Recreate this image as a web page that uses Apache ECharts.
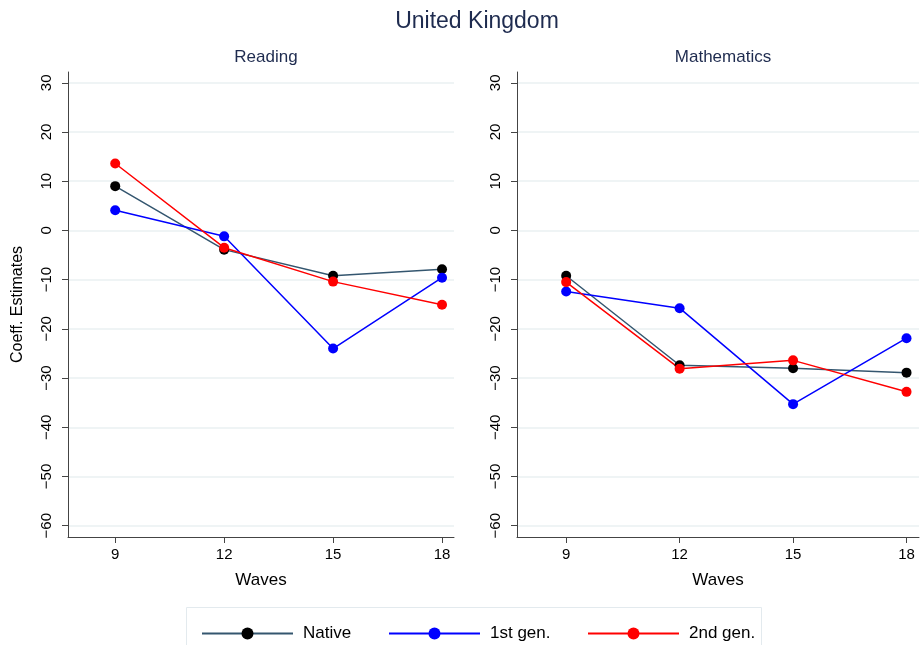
<!DOCTYPE html>
<html>
<head>
<meta charset="utf-8">
<script src="https://cdn.jsdelivr.net/npm/echarts@6/dist/echarts.min.js"></script>
<style>html,body{margin:0;padding:0;background:#fff}#c{width:921px;height:645px}</style>
</head>
<body>
<div id="c"></div>
<script>
var waves = [9, 12, 15, 18];
var yTicks = [-60, -50, -40, -30, -20, -10, 0, 10, 20, 30];
var seriesNames = ['Native', '1st gen.', '2nd gen.'];
var readingNative = [9.0, -3.9, -9.2, -7.9];
var reading1st = [4.1, -1.2, -24.0, -9.6];
var reading2nd = [13.6, -3.5, -10.4, -15.1];
var mathNative = [-9.2, -27.4, -28.0, -28.9];
var math1st = [-12.4, -15.8, -35.3, -21.9];
var math2nd = [-10.5, -28.1, -26.4, -32.8];

var lineColors = ['#34566f', '#0000ff', '#ff0000'];
var markerColors = ['#000000', '#0000ff', '#ff0000'];
var FONT = 'Liberation Sans, Arial, Helvetica, sans-serif';

function pairs(vals) { return waves.map(function (w, i) { return [w, vals[i]]; }); }

function xAxis(idx) {
  return {
    type: 'value', gridIndex: idx, min: 7.7, max: 18.33,
    name: 'Waves', nameLocation: 'middle', nameGap: 35,
    nameTextStyle: { fontSize: 17, color: '#000', fontFamily: FONT },
    axisLine: { show: true, onZero: false, lineStyle: { color: '#444', width: 1 } },
    axisTick: { show: true, length: 6, customValues: waves, lineStyle: { color: '#444' } },
    axisLabel: { customValues: waves, fontSize: 15, color: '#000', fontFamily: FONT, margin: 10 },
    splitLine: { show: false }
  };
}
function yAxis(idx, withName) {
  return {
    type: 'value', gridIndex: idx, min: -62.3, max: 32.2,
    name: withName ? 'Coeff. Estimates' : '', nameLocation: 'middle', nameGap: 42,
    nameTextStyle: { fontSize: 16, color: '#000', fontFamily: FONT },
    axisLine: { show: true, onZero: false, lineStyle: { color: '#444', width: 1 } },
    axisTick: { show: true, length: 6, customValues: yTicks, lineStyle: { color: '#444' } },
    axisLabel: {
      customValues: yTicks, rotate: 90, fontSize: 15, color: '#000', fontFamily: FONT, margin: 14,
      formatter: function (v) { return String(v).replace('-', '\u2212'); }
    },
    splitLine: { show: true, lineStyle: { color: '#eaf0f2', width: 1.5 } }
  };
}
function ser(name, k, data, idx) {
  return {
    name: name, type: 'line', xAxisIndex: idx, yAxisIndex: idx,
    data: pairs(data), symbol: 'circle', symbolSize: 10,
    lineStyle: { color: lineColors[k], width: 1.5 },
    itemStyle: { color: markerColors[k] },
    emphasis: { disabled: true }, animation: false
  };
}
function legend(k, left) {
  return {
    data: [seriesNames[k]], left: left, top: 620, itemWidth: 91, itemHeight: 15,
    textStyle: { fontSize: 17, color: '#000', fontFamily: FONT, padding: [0, 0, 0, 5] },
    selectedMode: false
  };
}

var chart = echarts.init(document.getElementById('c'));
chart.setOption({
  backgroundColor: '#fff',
  animation: false,
  title: [
    { text: 'United Kingdom', left: 472, top: 5, textAlign: 'center', textStyle: { fontSize: 23, fontWeight: 'normal', color: '#1e2b4f', fontFamily: FONT } },
    { text: 'Reading', left: 261, top: 44, textAlign: 'center', textStyle: { fontSize: 17, fontWeight: 'normal', color: '#1e2b4f', fontFamily: FONT } },
    { text: 'Mathematics', left: 718, top: 44, textAlign: 'center', textStyle: { fontSize: 17, fontWeight: 'normal', color: '#1e2b4f', fontFamily: FONT } }
  ],
  grid: [
    { left: 68, top: 72, width: 386, height: 465, containLabel: false },
    { left: 517, top: 72, width: 402, height: 465, containLabel: false }
  ],
  xAxis: [xAxis(0), xAxis(1)],
  yAxis: [yAxis(0, true), yAxis(1, false)],
  legend: [legend(0, 196), legend(1, 383), legend(2, 582)],
  graphic: [{
    type: 'rect', shape: { x: 186.5, y: 607.5, width: 575, height: 50 },
    style: { fill: 'none', stroke: '#e3eaee', lineWidth: 1 }, z: -1
  }],
  series: [
    ser(seriesNames[0], 0, readingNative, 0),
    ser(seriesNames[1], 1, reading1st, 0),
    ser(seriesNames[2], 2, reading2nd, 0),
    ser(seriesNames[0], 0, mathNative, 1),
    ser(seriesNames[1], 1, math1st, 1),
    ser(seriesNames[2], 2, math2nd, 1)
  ]
});
</script>
</body>
</html>
